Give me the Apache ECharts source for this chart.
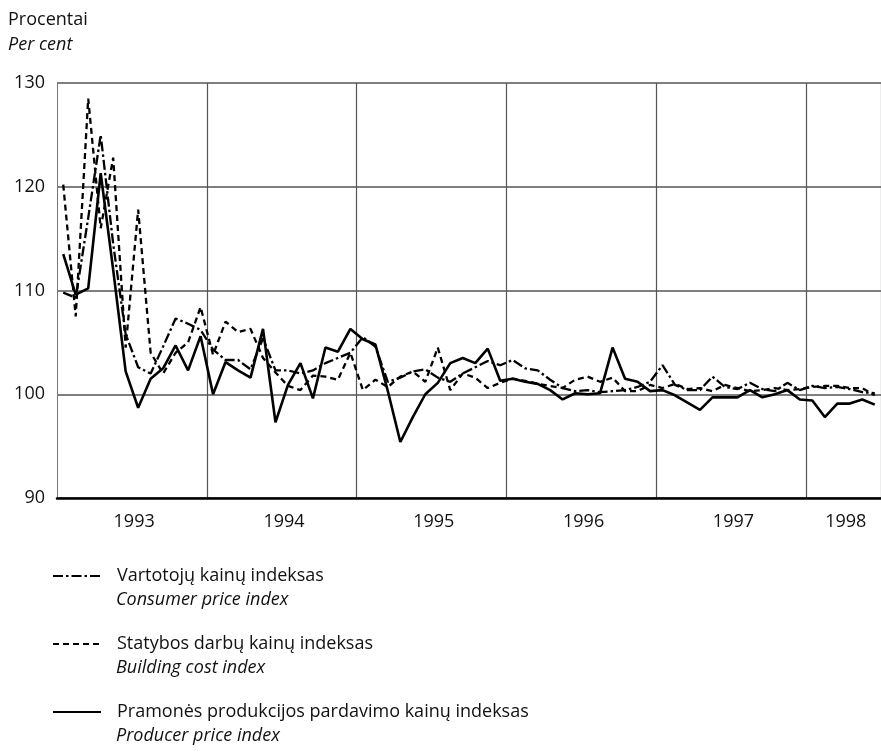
<!DOCTYPE html>
<html>
<head>
<meta charset="utf-8">
<script src="https://cdn.jsdelivr.net/npm/echarts@6/dist/echarts.min.js"></script>
<style>
  html, body { margin: 0; padding: 0; background: #fff; }
  #chart { width: 881px; height: 754px; }
</style>
</head>
<body>
<div id="chart"></div>
<script>
// metai ir mėnesiai (1993-01 ... 1998-06)
const years = ['1993', '1994', '1995', '1996', '1997', '1998']
const monthsInLastYear = 6

// Vartotojų kainų indeksas / Consumer price index
const consumerIdx = [
  109.8, 109.3, 117.0, 125.0, 114.5, 105.8, 102.6, 102.0, 104.6, 107.3, 106.8, 106.2,
  104.3, 103.3, 103.3, 102.4, 105.4, 102.3, 102.3, 102.0, 102.3, 103.0, 103.5, 104.0,
  105.5, 104.6, 101.2, 101.6, 102.2, 102.4, 101.6, 101.2, 102.0, 102.6, 103.2, 102.8,
  103.3, 102.5, 102.3, 101.4, 100.6, 100.3, 100.4, 100.2, 100.3, 100.4, 100.7, 101.2,
  102.8, 100.9, 100.4, 100.4, 101.7, 100.7, 100.5, 101.1, 100.5, 100.3, 101.1, 100.4,
  100.8, 100.6, 100.7, 100.5, 100.2, 100.1
]

// Statybos darbų kainų indeksas / Building cost index
const buildingIdx = [
  120.2, 107.5, 128.5, 116.0, 122.8, 104.5, 117.8, 104.0, 102.0, 104.0, 105.0, 108.4,
  103.8, 107.0, 106.0, 106.3, 103.5, 102.1, 100.8, 100.4, 101.8, 101.7, 101.4, 104.0,
  100.4, 101.4, 100.7, 101.7, 102.2, 101.2, 104.5, 100.4, 102.0, 101.6, 100.6, 101.1,
  101.5, 101.3, 101.0, 100.8, 100.6, 101.4, 101.7, 101.2, 101.6, 100.3, 100.3, 100.9,
  100.6, 101.0, 100.5, 100.6, 100.3, 100.9, 100.6, 100.3, 100.4, 100.6, 100.4, 100.5,
  100.7, 100.8, 100.8, 100.6, 100.6, 99.9
]

// Pramonės produkcijos pardavimo kainų indeksas / Producer price index
const producerIdx = [
  113.5, 109.6, 110.2, 121.3, 112.0, 102.2, 98.7, 101.5, 102.5, 104.7, 102.3, 105.6,
  100.0, 103.1, 102.3, 101.6, 106.3, 97.3, 100.9, 103.0, 99.6, 104.5, 104.1, 106.3,
  105.3, 104.8, 100.3, 95.4, 97.8, 100.0, 101.1, 103.0, 103.5, 103.0, 104.4, 101.3,
  101.5, 101.2, 101.0, 100.4, 99.5, 100.1, 100.0, 100.1, 104.5, 101.5, 101.2, 100.3,
  100.4, 99.9, 99.2, 98.5, 99.7, 99.7, 99.7, 100.4, 99.7, 100.0, 100.4, 99.5,
  99.4, 97.8, 99.1, 99.1, 99.5, 99.0
]

const yTicks = [90, 100, 110, 120, 130]

const seriesNames = [
  'Vartotojų kainų indeksas',
  'Statybos darbų kainų indeksas',
  'Pramonės produkcijos pardavimo kainų indeksas'
]
const seriesNamesEn = ['Consumer price index', 'Building cost index', 'Producer price index']

const months = []
years.forEach((y, i) => {
  const n = i === years.length - 1 ? monthsInLastYear : 12
  for (let m = 1; m <= n; m++) months.push(y + '-' + m)
})

// metų užrašai – maždaug metų viduryje
const yearLabelIdx = [6, 18, 30, 42, 54, 63]

const FONT = '"Open Sans", "DejaVu Sans", sans-serif'

// legendos eilutės
const legendTop = 567
const legendStep = 68

const getOption = () => ({
  animation: false,
  backgroundColor: '#fff',
  title: {
    text: 'Procentai',
    subtext: 'Per cent',
    left: 8,
    top: 9,
    padding: 0,
    itemGap: 3,
    textStyle: { fontFamily: FONT, fontSize: 18, fontWeight: 'normal', color: '#111', lineHeight: 22 },
    subtextStyle: { fontFamily: FONT, fontSize: 18, fontStyle: 'italic', color: '#111', lineHeight: 22 }
  },
  grid: {
    left: 57,
    right: 0,
    top: 83,
    bottom: 256
  },
  legend: {
    orient: 'vertical',
    left: 52,
    top: legendTop,
    padding: 0,
    itemGap: legendStep - 18,
    itemWidth: 48,
    itemHeight: 14,
    data: seriesNames,
    itemStyle: { color: 'rgba(0,0,0,0)', borderWidth: 0 },
    formatter: (name) => '{a|' + name + '}',
    textStyle: {
      fontFamily: FONT,
      color: '#111',
      rich: {
        a: { fontFamily: FONT, fontSize: 18, color: '#111', lineHeight: 23, padding: [0, 0, 0, 11] }
      }
    }
  },
  graphic: seriesNamesEn.map((t, i) => ({
    type: 'text',
    left: 116,
    top: legendTop + 24 + i * legendStep,
    style: {
      text: t,
      fontFamily: FONT,
      fontSize: 18,
      fontStyle: 'italic',
      fill: '#111'
    }
  })),
  xAxis: {
    type: 'category',
    data: months,
    boundaryGap: true,
    axisTick: { show: false },
    axisLine: { lineStyle: { color: '#000', width: 2.5 } },
    axisLabel: {
      interval: (index) => yearLabelIdx.includes(index),
      formatter: (value) => value.slice(0, 4),
      fontFamily: FONT,
      fontSize: 18,
      color: '#111',
      margin: 15,
      padding: [0, 8, 0, 0]
    },
    splitLine: {
      show: true,
      interval: (index) => index > 0 && index % 12 === 0,
      lineStyle: { color: '#555', width: 1.2 }
    }
  },
  yAxis: {
    type: 'value',
    min: yTicks[0],
    max: yTicks[yTicks.length - 1],
    interval: 10,
    axisLine: { show: true, lineStyle: { color: '#777', width: 1 } },
    axisTick: { show: false },
    axisLabel: {
      fontFamily: FONT,
      fontSize: 18,
      color: '#111',
      margin: 12
    },
    splitLine: { lineStyle: { color: '#555', width: 1.6 } }
  },
  series: [
    {
      name: seriesNames[0],
      type: 'line',
      data: consumerIdx,
      symbol: 'none',
      z: 3,
      lineStyle: { color: '#000', width: 2.3, type: [10, 3, 2.5, 3] },
      itemStyle: { color: '#000' }
    },
    {
      name: seriesNames[1],
      type: 'line',
      data: buildingIdx,
      symbol: 'none',
      z: 3,
      lineStyle: { color: '#000', width: 2.3, type: [6, 4] },
      itemStyle: { color: '#000' }
    },
    {
      name: seriesNames[2],
      type: 'line',
      data: producerIdx,
      symbol: 'none',
      z: 4,
      lineStyle: { color: '#000', width: 2.6 },
      itemStyle: { color: '#000' }
    }
  ]
})

const chart = echarts.init(document.getElementById('chart'))
chart.setOption(getOption())
</script>
</body>
</html>
